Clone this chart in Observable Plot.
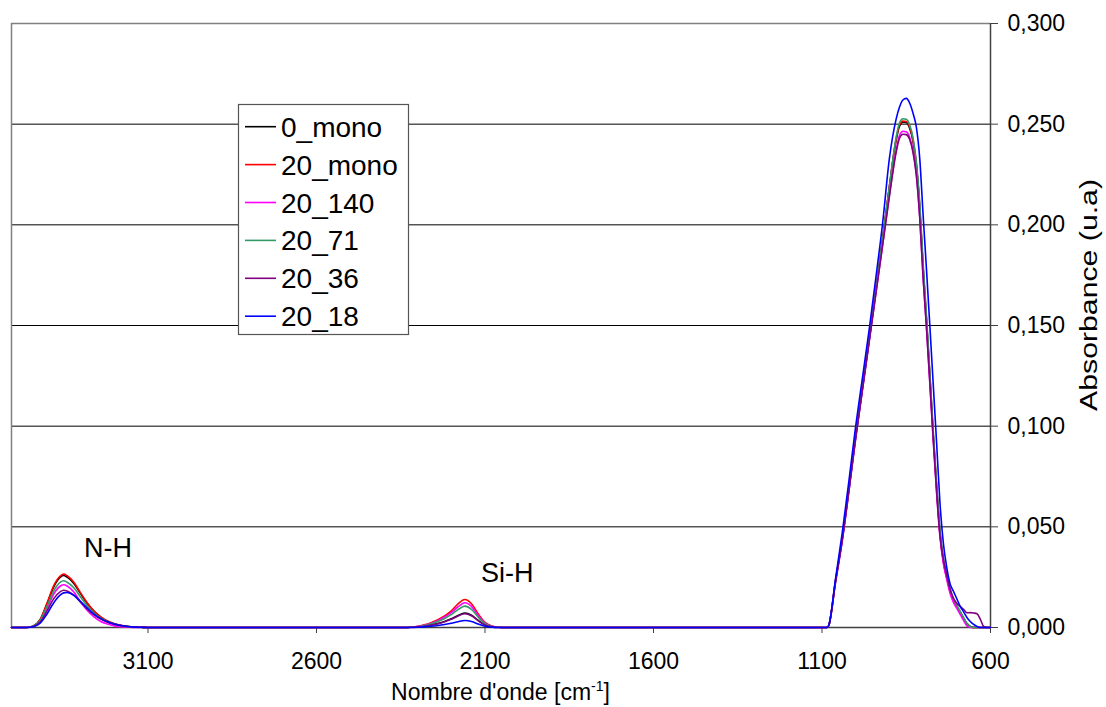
<!DOCTYPE html>
<html><head><meta charset="utf-8">
<script src="https://cdn.jsdelivr.net/npm/d3@7"></script>
<script src="https://cdn.jsdelivr.net/npm/@observablehq/plot@0.6"></script>
<style>body{margin:0;background:#fff} svg{display:block}</style>
</head><body><div id="chart"></div>
<script>
// ---- Data ----
const seriesNames = ["0_mono", "20_mono", "20_140", "20_71", "20_36", "20_18"];
const seriesColors = ["#000000", "#ff0000", "#ff00ff", "#339966", "#800080", "#0000ff"];

// wavenumbers (cm-1): N-H region, Si-H region, Si-N region
const wnNH = [3505, 3460, 3440, 3420, 3400, 3380, 3360, 3350, 3340, 3320, 3300, 3280, 3260, 3240, 3220, 3200, 3180, 3160, 3140, 3120, 3100];
const wnSiH = [2340, 2320, 2300, 2280, 2260, 2240, 2220, 2200, 2180, 2160, 2140, 2120, 2100, 2080, 2060, 2040];
const wnMain = [1100, 1085, 1080, 1060, 1040, 1020, 1000, 980, 960, 940, 920, 900, 880, 870, 860, 850, 840, 830, 820, 810, 800, 790, 780, 770, 760, 750, 740, 730, 720, 710, 700, 690, 680, 670, 660, 650, 640, 630, 620, 610, 600];

// absorbance values, one array per series (N-H | Si-H | main band)
const abs_0_mono = [
  0, 0, 0.0008, 0.0039, 0.0116, 0.0201, 0.025, 0.0258, 0.025, 0.0219, 0.0168, 0.0119, 0.008, 0.0052, 0.0031, 0.0018, 0.001, 0.0005, 0.0002, 0.0001, 0,
  0, 0.0001, 0.0003, 0.0006, 0.0012, 0.002, 0.003, 0.0043, 0.006, 0.0072, 0.0061, 0.0035, 0.0013, 0.0004, 0.0001, 0,
  0, 0, 0.001, 0.023, 0.044, 0.069, 0.095, 0.119, 0.143, 0.168, 0.193, 0.219, 0.242, 0.249, 0.251, 0.2508, 0.248, 0.2415, 0.2295, 0.2085, 0.1785, 0.153, 0.125, 0.096, 0.07, 0.047, 0.033, 0.025, 0.018, 0.0135, 0.0105, 0.0076, 0.0047, 0.002, 0.0005, 0, 0, 0, 0, 0, 0
];
const abs_20_mono = [
  0, 0, 0.0008, 0.004, 0.0119, 0.0207, 0.0257, 0.0265, 0.0257, 0.0225, 0.0172, 0.0122, 0.0082, 0.0053, 0.0032, 0.0019, 0.0011, 0.0005, 0.0002, 0.0001, 0,
  0, 0.0001, 0.0006, 0.0013, 0.0024, 0.0039, 0.0058, 0.0083, 0.0117, 0.0139, 0.0118, 0.0067, 0.0025, 0.0007, 0.0001, 0,
  0, 0, 0.001, 0.023, 0.044, 0.069, 0.095, 0.119, 0.143, 0.168, 0.193, 0.219, 0.2425, 0.2497, 0.2515, 0.2513, 0.2487, 0.2422, 0.2302, 0.209, 0.179, 0.153, 0.125, 0.096, 0.07, 0.047, 0.033, 0.025, 0.018, 0.0135, 0.0105, 0.0075, 0.0045, 0.0015, 0.0003, 0, 0, 0, 0, 0, 0
];
const abs_20_140 = [
  0, 0, 0.0006, 0.0032, 0.0095, 0.0165, 0.0206, 0.0212, 0.0206, 0.0176, 0.0127, 0.0085, 0.0053, 0.003, 0.0017, 0.0008, 0.0004, 0.0002, 0, 0, 0,
  0, 0.0001, 0.0005, 0.0011, 0.0021, 0.0034, 0.0052, 0.0074, 0.0103, 0.0123, 0.0105, 0.0059, 0.0022, 0.0006, 0.0001, 0,
  0, 0, 0.001, 0.023, 0.043, 0.068, 0.094, 0.118, 0.142, 0.166, 0.19, 0.215, 0.237, 0.2445, 0.2465, 0.2462, 0.2435, 0.237, 0.225, 0.204, 0.174, 0.149, 0.121, 0.093, 0.067, 0.045, 0.032, 0.024, 0.017, 0.0125, 0.0095, 0.0065, 0.0035, 0.0008, 0, 0, 0, 0, 0, 0, 0
];
const abs_20_71 = [
  0, 0, 0.0007, 0.0035, 0.0104, 0.0181, 0.0225, 0.0232, 0.0225, 0.0197, 0.0151, 0.0107, 0.0072, 0.0046, 0.0028, 0.0016, 0.0009, 0.0005, 0.0002, 0, 0,
  0, 0.0001, 0.0004, 0.001, 0.0018, 0.003, 0.0045, 0.0064, 0.0089, 0.0106, 0.009, 0.0051, 0.0019, 0.0005, 0.0001, 0,
  0, 0, 0.001, 0.023, 0.044, 0.069, 0.095, 0.119, 0.143, 0.168, 0.193, 0.219, 0.2435, 0.2507, 0.2527, 0.2524, 0.2497, 0.2432, 0.2312, 0.211, 0.181, 0.155, 0.127, 0.098, 0.072, 0.049, 0.035, 0.027, 0.0195, 0.0145, 0.0112, 0.008, 0.005, 0.002, 0.0005, 0, 0, 0, 0, 0, 0
];
const abs_20_36 = [
  0, 0, 0.0005, 0.0027, 0.0081, 0.0142, 0.0178, 0.0185, 0.0181, 0.0161, 0.0126, 0.0091, 0.0063, 0.0042, 0.0026, 0.0016, 0.0009, 0.0005, 0.0002, 0.0001, 0,
  0, 0.0001, 0.0003, 0.0006, 0.0012, 0.0019, 0.0029, 0.0041, 0.0057, 0.0068, 0.0058, 0.0033, 0.0012, 0.0003, 0, 0,
  0, 0, 0.001, 0.022, 0.043, 0.068, 0.094, 0.118, 0.142, 0.166, 0.19, 0.214, 0.236, 0.243, 0.245, 0.2448, 0.2425, 0.236, 0.2245, 0.2035, 0.174, 0.149, 0.122, 0.094, 0.068, 0.046, 0.034, 0.026, 0.019, 0.0145, 0.012, 0.0105, 0.009, 0.0073, 0.0074, 0.0072, 0.0068, 0.004, 0.0005, 0, 0
];
const abs_20_18 = [
  0, 0, 0.0004, 0.0021, 0.0066, 0.0122, 0.0162, 0.0172, 0.0174, 0.016, 0.0129, 0.0096, 0.0066, 0.0044, 0.0028, 0.0017, 0.001, 0.0005, 0.0002, 0.0001, 0,
  0, 0, 0.0001, 0.0003, 0.0006, 0.001, 0.0015, 0.0021, 0.0029, 0.0035, 0.003, 0.0017, 0.0006, 0.0002, 0, 0,
  0, 0, 0.001, 0.024, 0.047, 0.073, 0.1, 0.124, 0.148, 0.174, 0.201, 0.233, 0.2525, 0.2585, 0.262, 0.2628, 0.2605, 0.2555, 0.2485, 0.233, 0.205, 0.178, 0.15, 0.121, 0.092, 0.062, 0.042, 0.03, 0.0218, 0.018, 0.0143, 0.0105, 0.0078, 0.005, 0.003, 0.0015, 0.0005, 0, 0, 0, 0
];

const xTicks = [3100, 2600, 2100, 1600, 1100, 600];
const yTicks = [0, 0.05, 0.1, 0.15, 0.2, 0.25, 0.3];
const peakLabels = [{label: "N-H", w: 3290, a: 0.0395}, {label: "Si-H", w: 2112, a: 0.0271}];
const xTitle = "Nombre d'onde [cm";
const xTitleSup = "-1";
const yTitle = "Absorbance (u.a)";

// ---- Build tidy table ----
const wavenumbers = [...wnNH, ...wnSiH, ...wnMain];
const seriesValues = [abs_0_mono, abs_20_mono, abs_20_140, abs_20_71, abs_20_36, abs_20_18];
const rows = [];
seriesNames.forEach((s, i) => {
  wavenumbers.forEach((w, j) => rows.push({series: s, w, a: seriesValues[i][j]}));
});

const font = "'Liberation Sans', Arial, sans-serif";
const fmt = d => d.toFixed(3).replace(".", ",");

const chart = Plot.plot({
  width: 1106, height: 707,
  marginLeft: 11, marginRight: 116, marginTop: 23, marginBottom: 80,
  style: {fontFamily: font, fontSize: "23px", background: "#fff", color: "#000"},
  x: {domain: [3505, 600], axis: null},
  y: {domain: [0, 0.3], axis: null},
  color: {domain: seriesNames, range: seriesColors},
  marks: [
    Plot.ruleY(yTicks.filter(d => d > 0 && d < 0.3), {stroke: "#000", strokeWidth: 1}),
    Plot.ruleY([0.3], {stroke: "#808080", strokeWidth: 1.5}),
    Plot.ruleX([3505], {stroke: "#808080", strokeWidth: 1.5}),
    Plot.ruleX([600], {stroke: "#404040", strokeWidth: 1.5}),
    Plot.ruleY([0], {stroke: "#404040", strokeWidth: 1.5}),
    Plot.axisY(yTicks, {anchor: "right", tickSize: 7, tickPadding: 10, tickFormat: fmt, label: null, stroke: "#404040", fill: "#000"}),
    Plot.axisX(xTicks, {anchor: "bottom", tickSize: 6, tickPadding: 19, tickFormat: d => String(d), label: null, stroke: "#404040", fill: "#000"}),
    Plot.line(rows, {x: "w", y: "a", z: "series", stroke: "series", curve: "monotone-x", strokeWidth: 1.6}),
    Plot.text(peakLabels, {x: "w", y: "a", text: "label", textAnchor: "start", lineAnchor: "middle", fontSize: 27, fill: "#000"})
  ]
});

const svg = d3.select(chart);
// axis titles
const xt = svg.append("text").attr("x", 500.5).attr("y", 700).attr("text-anchor", "middle")
  .attr("font-family", font).attr("font-size", 23).attr("fill", "#000");
xt.append("tspan").text(xTitle);
xt.append("tspan").attr("font-size", 14).attr("dy", -9).text(xTitleSup);
xt.append("tspan").attr("dy", 9).text("]");

svg.append("text").attr("transform", "translate(1097,295) rotate(-90)").attr("text-anchor", "middle")
  .attr("font-family", font).attr("font-size", 23).attr("fill", "#000")
  .attr("textLength", 232).attr("lengthAdjust", "spacingAndGlyphs").text(yTitle);

// legend
const lg = svg.append("g");
lg.append("rect").attr("x", 238.5).attr("y", 104.5).attr("width", 170).attr("height", 230)
  .attr("fill", "#fff").attr("stroke", "#555").attr("stroke-width", 1.2);
seriesNames.forEach((s, i) => {
  const y = 126.7 + i * 37.9;
  lg.append("line").attr("x1", 245).attr("x2", 276).attr("y1", y).attr("y2", y)
    .attr("stroke", seriesColors[i]).attr("stroke-width", 1.6);
  lg.append("text").attr("x", 281).attr("y", y).attr("dy", "0.36em").attr("text-anchor", "start")
    .attr("font-family", font).attr("font-size", 28).attr("fill", "#000").text(s);
});

document.getElementById("chart").appendChild(chart);
</script>
</body></html>
